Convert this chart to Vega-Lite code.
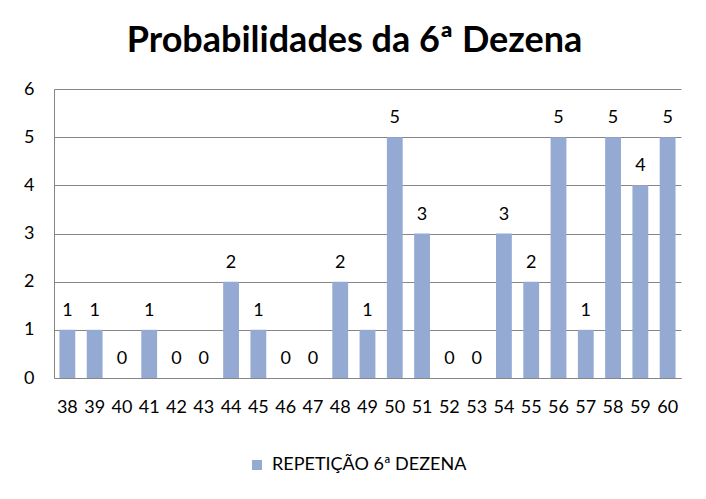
{
  "$schema": "https://vega.github.io/schema/vega-lite/v6.json",
  "autosize": "none",
  "width": 627,
  "height": 289,
  "padding": {"left": 54, "top": 89, "right": 25, "bottom": 121},
  "background": "white",
  "title": {
    "text": "Probabilidades da 6ª Dezena",
    "font": "Lato",
    "fontSize": 36,
    "fontWeight": "bold",
    "color": "#000000",
    "anchor": "middle",
    "frame": "group",
    "offset": 20,
    "dx": -13
  },
  "data": {
    "values": [
      {"dezena": "38", "repeticao": 1, "serie": "REPETIÇÃO 6ª DEZENA"},
      {"dezena": "39", "repeticao": 1, "serie": "REPETIÇÃO 6ª DEZENA"},
      {"dezena": "40", "repeticao": 0, "serie": "REPETIÇÃO 6ª DEZENA"},
      {"dezena": "41", "repeticao": 1, "serie": "REPETIÇÃO 6ª DEZENA"},
      {"dezena": "42", "repeticao": 0, "serie": "REPETIÇÃO 6ª DEZENA"},
      {"dezena": "43", "repeticao": 0, "serie": "REPETIÇÃO 6ª DEZENA"},
      {"dezena": "44", "repeticao": 2, "serie": "REPETIÇÃO 6ª DEZENA"},
      {"dezena": "45", "repeticao": 1, "serie": "REPETIÇÃO 6ª DEZENA"},
      {"dezena": "46", "repeticao": 0, "serie": "REPETIÇÃO 6ª DEZENA"},
      {"dezena": "47", "repeticao": 0, "serie": "REPETIÇÃO 6ª DEZENA"},
      {"dezena": "48", "repeticao": 2, "serie": "REPETIÇÃO 6ª DEZENA"},
      {"dezena": "49", "repeticao": 1, "serie": "REPETIÇÃO 6ª DEZENA"},
      {"dezena": "50", "repeticao": 5, "serie": "REPETIÇÃO 6ª DEZENA"},
      {"dezena": "51", "repeticao": 3, "serie": "REPETIÇÃO 6ª DEZENA"},
      {"dezena": "52", "repeticao": 0, "serie": "REPETIÇÃO 6ª DEZENA"},
      {"dezena": "53", "repeticao": 0, "serie": "REPETIÇÃO 6ª DEZENA"},
      {"dezena": "54", "repeticao": 3, "serie": "REPETIÇÃO 6ª DEZENA"},
      {"dezena": "55", "repeticao": 2, "serie": "REPETIÇÃO 6ª DEZENA"},
      {"dezena": "56", "repeticao": 5, "serie": "REPETIÇÃO 6ª DEZENA"},
      {"dezena": "57", "repeticao": 1, "serie": "REPETIÇÃO 6ª DEZENA"},
      {"dezena": "58", "repeticao": 5, "serie": "REPETIÇÃO 6ª DEZENA"},
      {"dezena": "59", "repeticao": 4, "serie": "REPETIÇÃO 6ª DEZENA"},
      {"dezena": "60", "repeticao": 5, "serie": "REPETIÇÃO 6ª DEZENA"}
    ]
  },
  "encoding": {
    "x": {
      "field": "dezena",
      "type": "ordinal",
      "sort": null,
      "scale": {"paddingInner": 0.42, "paddingOuter": 0.2},
      "axis": {
        "title": null,
        "labelAngle": 0,
        "labelFont": "Lato",
        "labelFontSize": 18,
        "labelColor": "#000000",
        "labelPadding": 20,
        "ticks": false,
        "domainColor": "#868686",
        "domainWidth": 1,
        "grid": false
      }
    },
    "y": {
      "field": "repeticao",
      "type": "quantitative",
      "scale": {"domain": [0, 6], "nice": false},
      "axis": {
        "title": null,
        "values": [0, 1, 2, 3, 4, 5, 6],
        "labelFont": "Lato",
        "labelFontSize": 18,
        "labelColor": "#000000",
        "labelPadding": 20,
        "ticks": false,
        "domainColor": "#868686",
        "domainWidth": 1,
        "grid": true,
        "gridColor": "#868686",
        "gridWidth": 1,
        "gridOpacity": 1
      }
    }
  },
  "layer": [
    {
      "mark": {"type": "bar"},
      "encoding": {
        "color": {
          "field": "serie",
          "type": "nominal",
          "scale": {"range": ["#95AAD2"]},
          "legend": {
            "title": null,
            "orient": "none",
            "legendX": 194,
            "legendY": 367,
            "symbolType": "square",
            "symbolSize": 100,
            "symbolStrokeWidth": 0,
            "labelFont": "Lato",
            "labelFontSize": 18,
            "labelLimit": 400,
            "labelColor": "#000000",
            "labelOffset": 6
          }
        }
      }
    },
    {
      "mark": {"type": "text", "dy": -14, "font": "Lato", "fontSize": 18, "color": "#000000", "baseline": "alphabetic"},
      "encoding": {
        "text": {"field": "repeticao", "type": "quantitative"}
      }
    }
  ],
  "config": {
    "view": {"stroke": null}
  }
}
